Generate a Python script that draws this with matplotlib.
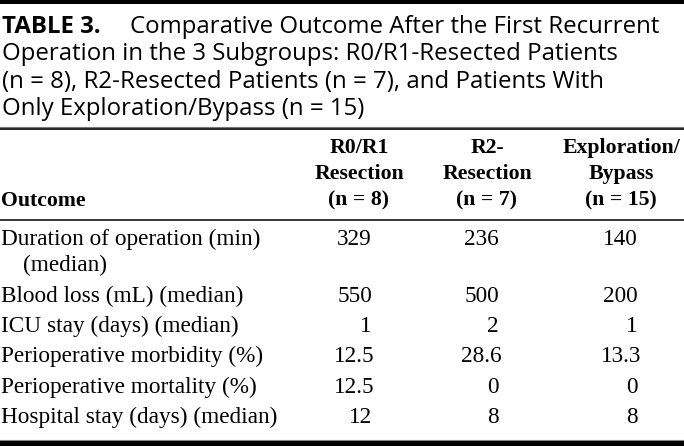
import matplotlib
matplotlib.use("Agg")
import matplotlib.pyplot as plt

# ---- data ----
title_label = "TABLE 3."
title_lines = [
    "Comparative Outcome After the First Recurrent",
    "Operation in the 3 Subgroups: R0/R1-Resected Patients",
    "(n = 8), R2-Resected Patients (n = 7), and Patients With",
    "Only Exploration/Bypass (n = 15)",
]
row_header = "Outcome"
col_headers = [
    ["R0/R1", "Resection", "(n = 8)"],
    ["R2-", "Resection", "(n = 7)"],
    ["Exploration/", "Bypass", "(n = 15)"],
]
outcomes = [
    ["Duration of operation (min)", "(median)"],
    ["Blood loss (mL) (median)"],
    ["ICU stay (days) (median)"],
    ["Perioperative morbidity (%)"],
    ["Perioperative mortality (%)"],
    ["Hospital stay (days) (median)"],
]
r0r1 = [329, 550, 1, 12.5, 12.5, 12]
r2 = [236, 500, 2, 28.6, 0, 8]
explor = [140, 200, 1, 13.3, 0, 8]

# ---- layout ----
W, H = 684, 446
fig = plt.figure(figsize=(W / 100, H / 100), dpi=100)
ax = fig.add_axes([0, 0, 1, 1])
ax.set_xlim(0, W)
ax.set_ylim(H, 0)
ax.axis("off")
renderer = fig.canvas.get_renderer()


def fit(t, target):
    w = t.get_window_extent(renderer).width
    t.set_fontsize(t.get_fontsize() * target / w)
    return t.get_fontsize()


sans = "Open Sans"
serif = "Liberation Serif"

# rules
ax.axhspan(0, 4, color="black", lw=0)
ax.axhspan(441, 446, color="black", lw=0)
ax.plot([0, W], [439.8, 439.8], color="#888888", lw=0.8)
ax.plot([0, W], [127, 127], color="#777777", lw=0.8)
ax.plot([0, W], [128.6, 128.6], color="black", lw=1.2)
ax.plot([0, W], [220, 220], color="black", lw=1.1)

# title: fit size on line 2
probe = ax.text(2, 60, title_lines[1], fontfamily=sans, fontsize=15, va="baseline")
tfs = fit(probe, 614)
probe.remove()
title_y = [33, 60, 88, 115]
ax.text(2, title_y[0], title_label, fontfamily=sans, fontweight="bold",
        fontsize=tfs, va="baseline")
ax.text(130, title_y[0], title_lines[0], fontfamily=sans, fontsize=tfs, va="baseline")
for y, line in zip(title_y[1:], title_lines[1:]):
    ax.text(2, y, line, fontfamily=sans, fontsize=tfs, va="baseline")

# body font size fit
probe = ax.text(1, 302, outcomes[1][0], fontfamily=serif, fontsize=16, va="baseline")
bfs = fit(probe, 242)
probe.remove()
probe = ax.text(0, 0, "Resection", fontfamily=serif, fontweight="bold",
                fontsize=16, va="baseline")
hfs = fit(probe, 90)
probe.remove()

# header
header_cx = [359, 487, 621]
header_y = [153, 179, 205]
ax.text(1, 206, row_header, fontfamily=serif, fontweight="bold", fontsize=hfs,
        va="baseline")
for cx, lines in zip(header_cx, col_headers):
    for y, s in zip(header_y, lines):
        ax.text(cx, y, s, fontfamily=serif, fontweight="bold", fontsize=hfs,
                ha="center", va="baseline")

# body rows
row_y = [245, 302, 332, 362, 393, 423]
sub_dy = 26
col_right = [372, 499, 638]


def fmt(v):
    return f"{v:.1f}" if isinstance(v, float) else str(v)


for i, y in enumerate(row_y):
    ax.text(1, y, outcomes[i][0], fontfamily=serif, fontsize=bfs, va="baseline")
    for k, extra in enumerate(outcomes[i][1:]):
        ax.text(23, y + sub_dy * (k + 1), extra, fontfamily=serif, fontsize=bfs,
                va="baseline")
    for xr, col in zip(col_right, [r0r1, r2, explor]):
        v = col[i]
        ax.text(xr + (3 if isinstance(v, float) else 0), y, fmt(v),
                fontfamily=serif, fontsize=bfs, ha="right", va="baseline")

fig.savefig("out.png", dpi=100)
